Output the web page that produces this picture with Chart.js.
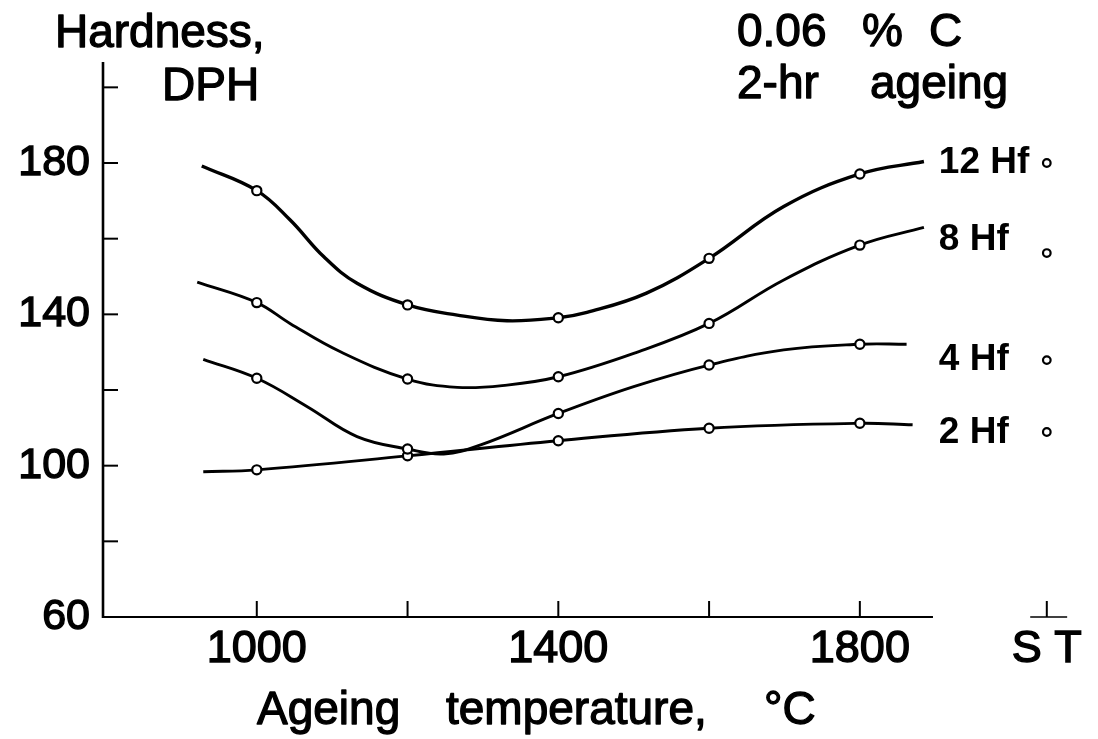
<!DOCTYPE html>
<html>
<head>
<meta charset="utf-8">
<script src="https://cdn.jsdelivr.net/npm/chart.js@4.4.1/dist/chart.umd.min.js"></script>
<style>
  html, body { margin: 0; padding: 0; background: #ffffff; }
  #wrap { width: 1098px; height: 739px; }
</style>
</head>
<body>
<div id="wrap"><canvas id="c" width="1098" height="739"></canvas></div>
<script>
// ---- data ----
const temps = [1000, 1200, 1400, 1600, 1800];
const stTemp = 2048;               // "S T" (solution treated) position on the x axis
const xTickValues = [1000, 1200, 1400, 1600, 1800, 2048];
const xTickLabels = ['1000', '', '1400', '', '1800', 'S T'];
const yTickValues = [60, 80, 100, 120, 140, 160, 180, 200];
const yTickLabels = ['60', '', '100', '', '140', '', '180', ''];
const seriesNames = ['12 Hf', '8 Hf', '4 Hf', '2 Hf'];

// measured points (circles)
const hf12 = [172.7, 142.5, 139.1, 154.8, 177.1];
const hf8  = [143.1, 122.9, 123.5, 137.6, 158.3];
const hf4  = [123.1, 104.4, 113.8, 126.6, 132.1];
const hf2  = [98.9, 102.6, 106.6, 109.9, 111.2];
const stValues = [180.0, 156.2, 127.9, 108.9];   // 12, 8, 4, 2 Hf at S T

// traced smooth curves
const hf12CurveX = [927, 1000, 1044, 1089, 1133, 1200, 1266, 1332, 1400, 1438, 1517, 1600, 1699, 1800, 1885];
const hf12CurveY = [179.2, 172.7, 165.0, 155.2, 148.2, 142.5, 139.8, 138.3, 139.1, 140.5, 145.6, 154.8, 168.5, 177.1, 180.4];
const hf8CurveX  = [921, 1000, 1044, 1111, 1200, 1266, 1332, 1400, 1500, 1600, 1699, 1800, 1885];
const hf8CurveY  = [148.5, 143.1, 137.6, 130.1, 122.9, 120.7, 121.3, 123.5, 129.7, 137.6, 149.1, 158.3, 163.0];
const hf4CurveX  = [929, 1000, 1067, 1133, 1200, 1248, 1297, 1400, 1500, 1600, 1699, 1800, 1862];
const hf4CurveY  = [128.1, 123.1, 115.6, 107.7, 104.4, 103.1, 105.5, 113.8, 120.9, 126.6, 130.6, 132.1, 132.1];
const hf2CurveX  = [929, 1000, 1200, 1400, 1600, 1800, 1870];
const hf2CurveY  = [98.4, 98.9, 102.6, 106.6, 109.9, 111.2, 110.8];

// axis extents
const xMin = 796, xMax = 2100, xAxisEnd = 1897, stSegStart = 2026, stSegEnd = 2075;
const yMin = 60, yMax = 206.7;

const FONT = "'Liberation Sans', Arial, sans-serif";

function zip(xs, ys) { return xs.map((x, i) => ({ x: x, y: ys[i] })); }

const curveSets = [
  zip(hf12CurveX, hf12CurveY), zip(hf8CurveX, hf8CurveY),
  zip(hf4CurveX, hf4CurveY), zip(hf2CurveX, hf2CurveY)
];
const pointSets = [hf12, hf8, hf4, hf2].map(v => zip(temps, v));

const datasets = [];
pointSets.forEach((pts, i) => {
  datasets.push({
    label: seriesNames[i] + ' points',
    data: pts.concat([{ x: stTemp, y: stValues[i] }]),
    showLine: false,
    pointRadius: pts.concat([0]).map((p, j) => j === pts.length ? 3.8 : 4.6),
    pointBorderWidth: 2.2,
    pointBorderColor: '#000',
    pointBackgroundColor: '#fff',
    order: 0
  });
});
curveSets.forEach((pts, i) => {
  datasets.push({
    label: seriesNames[i],
    data: pts,
    borderColor: '#000',
    borderWidth: i === 0 ? 3.4 : 2.9,
    pointRadius: 0,
    fill: false,
    tension: 0.4,
    order: 1
  });
});

function boldText(ctx, txt, x, y, w) {
  ctx.fillText(txt, x, y);
  ctx.lineWidth = w;
  ctx.strokeText(txt, x, y);
}

const axesPlugin = {
  id: 'axesPlugin',
  afterDatasetsDraw(chart) {
    const ctx = chart.ctx;
    const xs = chart.scales.x, ys = chart.scales.y;
    const bottom = ys.getPixelForValue(yMin);
    const top = ys.getPixelForValue(yMax);
    const left = xs.getPixelForValue(xMin);
    ctx.save();
    ctx.strokeStyle = '#000';
    ctx.lineCap = 'butt';
    // y axis
    ctx.lineWidth = 2.6;
    ctx.beginPath();
    ctx.moveTo(left, bottom + 1);
    ctx.lineTo(left, top);
    ctx.stroke();
    // y ticks (inward)
    ctx.lineWidth = 2;
    yTickValues.forEach(v => {
      if (v === yMin) return;
      const y = ys.getPixelForValue(v);
      ctx.beginPath();
      ctx.moveTo(left, y);
      ctx.lineTo(left + 15, y);
      ctx.stroke();
    });
    // x axis main segment
    ctx.lineWidth = 2.2;
    ctx.beginPath();
    ctx.moveTo(left - 1, bottom);
    ctx.lineTo(xs.getPixelForValue(xAxisEnd), bottom);
    ctx.stroke();
    // S T segment
    ctx.lineWidth = 1.6;
    ctx.beginPath();
    ctx.moveTo(xs.getPixelForValue(stSegStart), bottom);
    ctx.lineTo(xs.getPixelForValue(stSegEnd), bottom);
    ctx.stroke();
    // x ticks (inward)
    ctx.lineWidth = 2;
    xTickValues.forEach(v => {
      const x = xs.getPixelForValue(v);
      ctx.beginPath();
      ctx.moveTo(x, bottom);
      ctx.lineTo(x, bottom - 16);
      ctx.stroke();
    });

    // texts
    ctx.fillStyle = '#000';
    ctx.strokeStyle = '#000';
    ctx.lineJoin = 'round';
    ctx.textBaseline = 'alphabetic';
    ctx.textAlign = 'left';
    ctx.font = '46px ' + FONT;
    boldText(ctx, 'Hardness,', 55, 47, 1.3);
    boldText(ctx, 'DPH', 162, 100, 1.3);
    // top-right note
    boldText(ctx, '0.06', 737, 46, 1.3);
    boldText(ctx, '%', 862, 46, 1.3);
    boldText(ctx, 'C', 929, 46, 1.3);
    boldText(ctx, '2-hr', 737, 98, 1.3);
    boldText(ctx, 'ageing', 870, 98, 1.3);
    // x axis title
    boldText(ctx, 'Ageing', 257, 724, 1.3);
    boldText(ctx, 'temperature,', 446, 724, 1.3);
    boldText(ctx, '\u00B0C', 764, 724, 1.3);
    // series labels beside the S T points
    const baseOff = [10, -3, 10, 11];
    ctx.font = 'bold 37px ' + FONT;
    stValues.forEach((v, i) => {
      const y = ys.getPixelForValue(v) + baseOff[i];
      const x = xs.getPixelForValue(stTemp) - 108;
      ctx.fillText(seriesNames[i], x, y);
    });
    ctx.restore();
  }
};

new Chart(document.getElementById('c'), {
  type: 'line',
  data: { datasets: datasets },
  options: {
    responsive: false,
    devicePixelRatio: 1,
    animation: false,
    events: [],
    layout: { padding: { top: 62, right: 12, bottom: 0, left: 0 } },
    plugins: { legend: { display: false }, tooltip: { enabled: false }, title: { display: false } },
    scales: {
      x: {
        type: 'linear',
        min: xMin, max: xMax,
        grid: { display: false, drawTicks: false },
        border: { display: false },
        afterBuildTicks(scale) { scale.ticks = xTickValues.map(v => ({ value: v })); },
        afterFit(scale) { scale.height = 122; },
        ticks: {
          autoSkip: false,
          maxRotation: 0,
          padding: 6,
          color: '#000',
          textStrokeColor: '#000',
          textStrokeWidth: 1.4,
          font: { family: FONT, size: 45 },
          callback(value) { const i = xTickValues.indexOf(value); return i >= 0 ? xTickLabels[i] : ''; }
        }
      },
      y: {
        type: 'linear',
        min: yMin, max: yMax,
        grid: { display: false, drawTicks: false },
        border: { display: false },
        afterBuildTicks(scale) { scale.ticks = yTickValues.map(v => ({ value: v })); },
        afterFit(scale) { scale.width = 103; },
        ticks: {
          autoSkip: false,
          padding: 13,
          color: '#000',
          textStrokeColor: '#000',
          textStrokeWidth: 1.4,
          font: { family: FONT, size: 43 },
          callback(value) { const i = yTickValues.indexOf(value); return i >= 0 ? yTickLabels[i] : ''; }
        }
      }
    }
  },
  plugins: [axesPlugin]
});
</script>
</body>
</html>
